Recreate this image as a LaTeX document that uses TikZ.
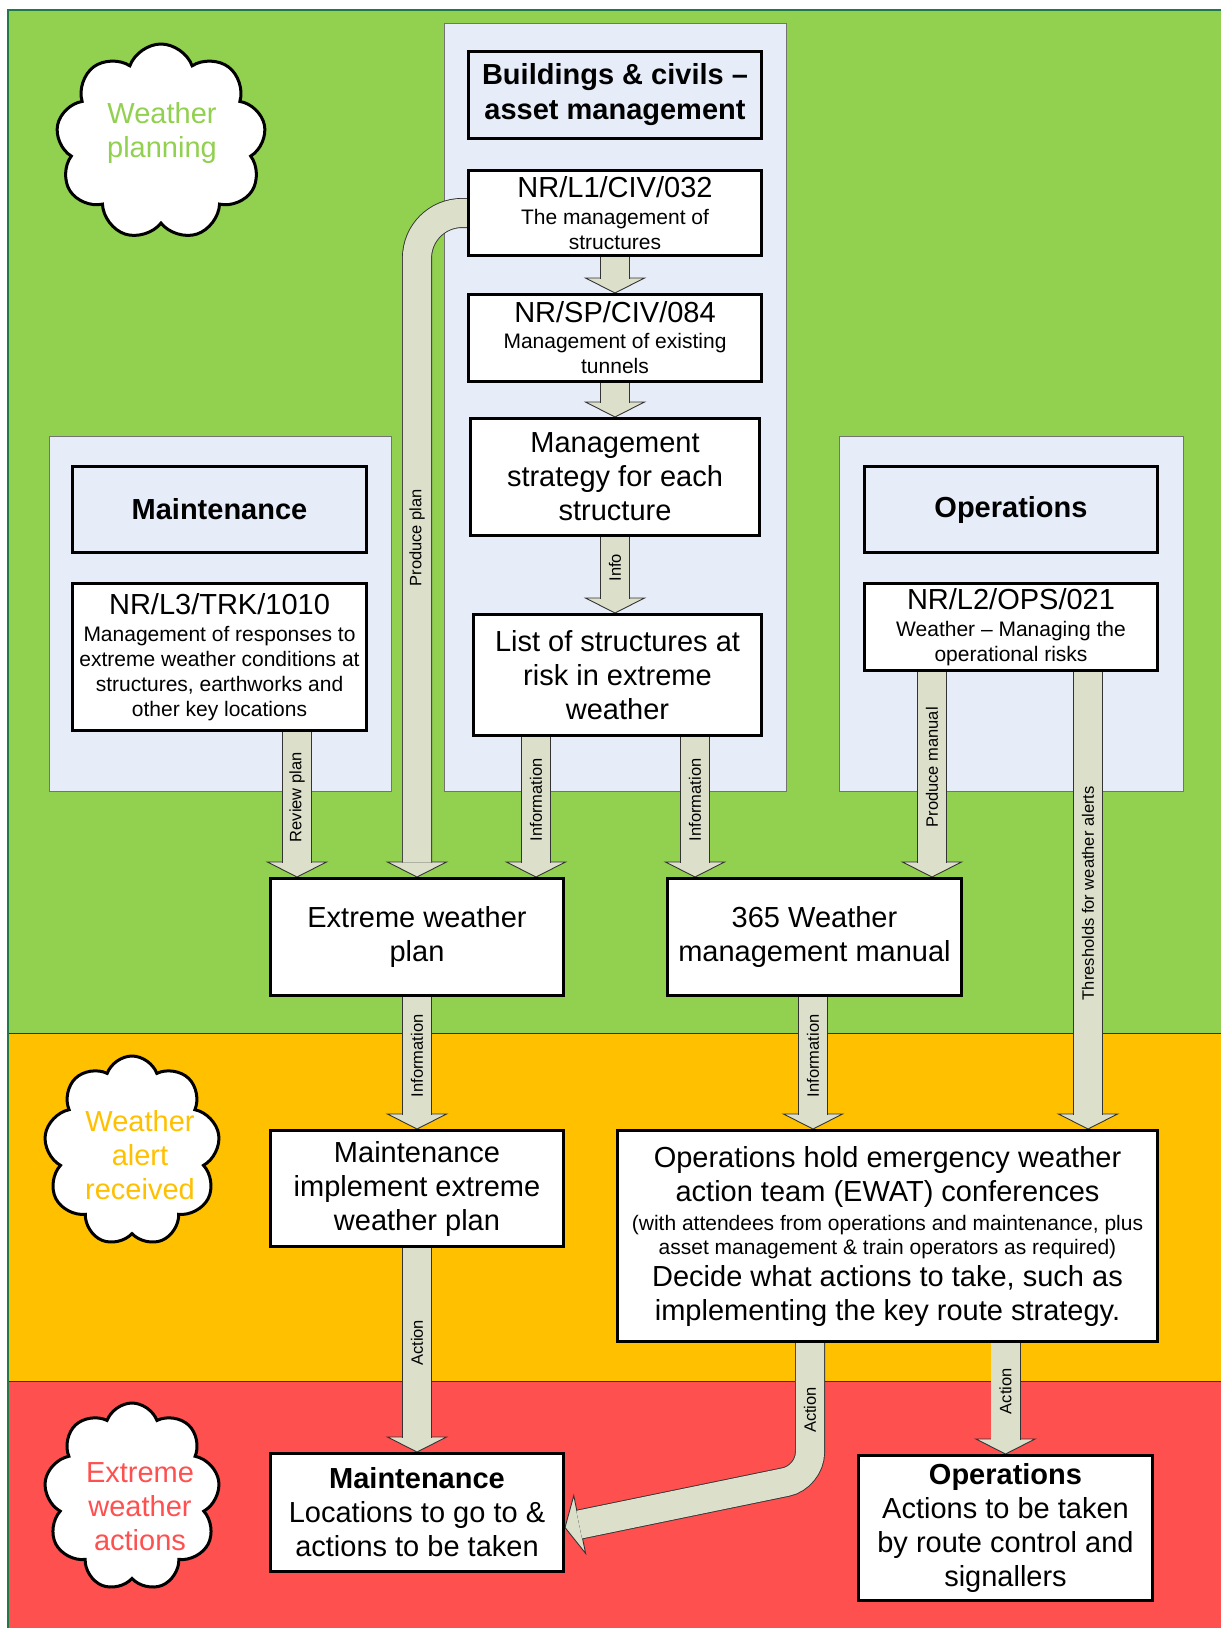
\documentclass[tikz,border=0pt]{standalone}
\usepackage{fontspec}
\setmainfont{Liberation Sans}
\usetikzlibrary{calc,shapes.symbols}
\pgfdeclarelayer{bg}
\pgfdeclarelayer{arr}
\pgfsetlayers{bg,arr,main}
\definecolor{bandgreen}{HTML}{92D050}
\definecolor{bandorange}{HTML}{FFC000}
\definecolor{bandred}{HTML}{FF5050}
\definecolor{panelblue}{RGB}{231,237,248}
\definecolor{arrowfill}{RGB}{220,224,203}
\definecolor{framegreen}{RGB}{31,122,72}
\newcommand\fs[2]{\fontsize{#1}{#2}\selectfont}
\newcommand\varrow[2]{%
  \draw[ahead] (#2) -- ++(-29.5,-15) -- ++(59,0) -- cycle;
  \draw[ashaft] (#1) -- ($(#2)+(0,-14.5)$);}
\newcommand\varrowl[3]{%
  \draw[ahead] (#2) -- ++(-29.5,-15) -- ++(59,0) -- cycle;
  \draw[ashaft] (#1) -- node[alabel]{#3} ($(#2)+(0,-14.5)$);}
\begin{document}
\begin{tikzpicture}[x=1pt,y=-1pt,
  box/.style={draw=black, line width=3pt, fill=white, align=center, inner sep=0pt, font=\fs{29}{34}},
  hbox/.style={box, fill=panelblue, font=\bfseries\fs{29}{35}},
  docbox/.style={box, font=\fs{21}{25}},
  panel/.style={draw=black!55, line width=0.8pt, fill=panelblue, inner sep=0pt},
  cloudsh/.style={cloud, cloud puffs=9, cloud puff arc=140, cloud ignores aspect, draw=black, line width=3pt, fill=white, inner sep=0pt},
  cloudtxt/.style={align=center, font=\fs{29}{34}, inner sep=0pt},
  ahead/.style={fill=arrowfill, draw=black!80, line width=0.9pt, line join=miter},
  ashaft/.style={draw=black!80, line width=0.9pt, double=arrowfill, double distance=28.2pt},
  alabel/.style={font=\fs{16.5}{19}, rotate=90, inner sep=0pt, midway},
]
\useasboundingbox (0,0) rectangle (1221,1628);
% ---------- background bands and panels ----------
\begin{pgfonlayer}{bg}
  \fill[white] (0,0) rectangle (1221,1628);
  \fill[bandgreen] (8,10) rectangle (1221,1033);
  \fill[bandorange] (8,1033) rectangle (1221,1381);
  \fill[bandred] (8,1381) rectangle (1221,1628);
  \draw[black!80, line width=0.8pt] (8,1033) -- (1221,1033);
  \draw[black!80, line width=0.8pt] (8,1381) -- (1221,1381);
  \draw[framegreen, line width=2.5pt] (8,1628) -- (8,10) -- (1221,10);
  \node[panel, minimum width=342pt, minimum height=768pt] (bcapanel) at (615,407) {};
  \node[panel, minimum width=342pt, minimum height=355pt] (mpanel) at (220,613.5) {};
  \node[panel, minimum width=344pt, minimum height=355pt] (opanel) at (1011,613.5) {};
\end{pgfonlayer}
% ---------- clouds ----------
\node[cloudsh, minimum width=210pt, minimum height=196pt] (cloud1) at (161,142) {};
\node[cloudtxt, text=bandgreen] (cloud1t) at (162,133) {Weather\\planning};
\node[cloudsh, minimum width=176pt, minimum height=190pt] (cloud2) at (132,1151) {};
\node[cloudtxt, text=bandorange] (cloud2t) at (140,1155) {Weather\\alert\\received};
\node[cloudsh, minimum width=176pt, minimum height=188pt] (cloud3) at (132,1497) {};
\node[cloudtxt, text=bandred] (cloud3t) at (140,1507) {Extreme\\weather\\actions};
% ---------- boxes ----------
\node[hbox, minimum width=293pt, minimum height=87pt] (bcah) at (615,95) {Buildings \& civils --\\asset management};
\node[docbox, minimum width=293pt, minimum height=85pt] (l1civ) at (615,213) {{\fs{29}{25}NR/L1/CIV/032}\\[2pt]The management of\\structures};
\node[docbox, minimum width=293pt, minimum height=87pt] (spciv) at (615,338) {{\fs{29}{25}NR/SP/CIV/084}\\[1pt]Management of existing\\tunnels};
\node[box, minimum width=289pt, minimum height=117pt] (mstrat) at (615,477) {Management\\strategy for each\\structure};
\node[box, minimum width=288pt, minimum height=121pt] (list) at (617.5,675) {List of structures at\\risk in extreme\\weather};
\node[hbox, minimum width=294pt, minimum height=86pt] (mhead) at (219.5,509.5) {Maintenance};
\node[docbox, minimum width=294pt, minimum height=147pt] (trk) at (219.5,657) {{\fs{29}{25}NR/L3/TRK/1010}\\[2pt]Management of responses to\\extreme weather conditions at\\structures, earthworks and\\other key locations};
\node[hbox, minimum width=293pt, minimum height=86pt] (ohead) at (1011,509.5) {Operations};
\node[docbox, minimum width=293pt, minimum height=87pt] (ops021) at (1011,627) {{\fs{29}{25}NR/L2/OPS/021}\\[2pt]Weather -- Managing the\\operational risks};
\node[box, minimum width=293pt, minimum height=117pt] (ewplan) at (417,937) {Extreme weather\\plan};
\node[box, minimum width=294pt, minimum height=117pt] (manual) at (814.5,937) {365 Weather\\management manual};
\node[box, minimum width=293pt, minimum height=116pt] (mimpl) at (417,1188.5) {Maintenance\\implement extreme\\weather plan};
\node[box, minimum width=540pt, minimum height=211pt] (ewat) at (887.5,1236) {Operations hold emergency weather\\action team (EWAT) conferences\\[-5pt]{\fs{21}{25}(with attendees from operations and maintenance, plus}\\[-10pt]{\fs{21}{25}asset management \& train operators as required)}\\[-2pt]Decide what actions to take, such as\\implementing the key route strategy.};
\node[box, minimum width=293pt, minimum height=118pt] (mloc) at (417,1512.5) {{\bfseries Maintenance}\\Locations to go to \&\\actions to be taken};
\node[box, minimum width=294pt, minimum height=145pt] (oact) at (1005.5,1528) {{\bfseries Operations}\\Actions to be taken\\by route control and\\signallers};
% ---------- arrow guide coordinates ----------
\coordinate (xrev) at (297,0);
\coordinate (xinfa) at (536,0);
\coordinate (xinfb) at (695,0);
\coordinate (xpm) at (932,0);
\coordinate (xthr) at (1088,0);
\coordinate (xinfc) at (813,0);
\coordinate (xact) at (810,0);
\coordinate (actbend) at (810,1477);
\coordinate (acttip) at ($(mloc.east)+(0,15)$);
% ---------- arrows ----------
\begin{pgfonlayer}{arr}
  \varrowl{trk.south -| xrev}{ewplan.north -| xrev}{Review plan}
  \varrow{l1civ.south}{spciv.north}
  \varrow{spciv.south}{mstrat.north}
  \varrowl{mstrat.south}{list.north -| mstrat.south}{Info}
  \varrowl{list.south -| xinfa}{ewplan.north -| xinfa}{Information}
  \varrowl{list.south -| xinfb}{manual.north -| xinfb}{Information}
  \varrowl{ops021.south -| xpm}{manual.north -| xpm}{Produce manual}
  \varrowl{ops021.south -| xthr}{ewat.north -| xthr}{Thresholds for weather alerts}
  \varrowl{ewplan.south}{mimpl.north}{Information}
  \varrowl{manual.south -| xinfc}{ewat.north -| xinfc}{Information}
  \varrowl{mimpl.south}{mloc.north}{Action}
  \varrowl{ewat.south -| oact.north}{oact.north}{Action}
  % produce plan (bent)
  \draw[ahead] (ewplan.north) -- ++(-29.5,-15) -- ++(59,0) -- cycle;
  \draw[ashaft, rounded corners=45pt] (l1civ.west) -- (ewplan.north |- l1civ.west) -- node[alabel]{Produce plan} ($(ewplan.north)+(0,-14.5)$);
  % action (bent to maintenance)
  \draw[ahead] (acttip) -- ++(20.62,25.88) -- ++(-11.86,-57.8) -- cycle;
  \draw[ashaft, rounded corners=24.5pt] (ewat.south -| xact) -- node[alabel]{Action} (actbend) -- ($(acttip)+(14.2,-2.92)$);
\end{pgfonlayer}
\end{tikzpicture}
\end{document}
